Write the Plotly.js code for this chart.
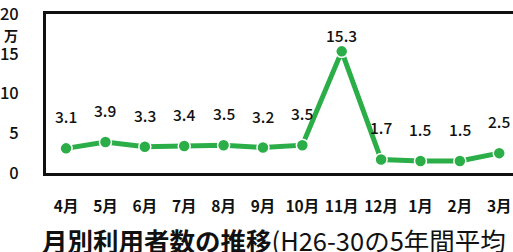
<!DOCTYPE html>
<html>
<head>
<meta charset="utf-8">
<script src="https://cdn.plot.ly/plotly-3.0.1.min.js"></script>
<style>html,body{margin:0;padding:0;background:#fff;}</style>
</head>
<body>
<div id="chart" style="width:513px;height:252px;"></div>
<script>
const months = ["4月","5月","6月","7月","8月","9月","10月","11月","12月","1月","2月","3月"];
const users = [3.1, 3.9, 3.3, 3.4, 3.5, 3.2, 3.5, 15.3, 1.7, 1.5, 1.5, 2.5];
const yTicks = [0, 5, 10, 15, 20];
const unitLabel = "万";
const titleBold = "月別利用者数の推移";
const titleRest = "(H26-30の5年間平均";

const FONT = "Noto Sans CJK JP, Noto Sans, sans-serif";
const green = "#2BAE47";

const annotations = months.map((m, i) => ({
  x: m, y: users[i], xref: "x", yref: "y",
  text: users[i].toFixed(1), showarrow: false,
  yshift: users[i] > 10 ? 16 : 32,
  font: {family: FONT, size: 15.5, color: "#111", weight: 500}
}));
annotations.push({
  xref: "paper", yref: "paper", x: -0.075, y: 0.87, xanchor: "center", yanchor: "middle",
  text: unitLabel, showarrow: false, font: {family: FONT, size: 14, color: "#111", weight: 700}
});
annotations.push({
  xref: "paper", yref: "paper", x: -0.012, y: -0.42, xanchor: "left", yanchor: "middle",
  text: "<b>" + titleBold + "</b>" + titleRest, showarrow: false,
  font: {family: FONT, size: 25.5, color: "#111"}
});

const trace = {
  x: months, y: users, type: "scatter", mode: "lines+markers",
  line: {color: green, width: 5},
  marker: {color: green, size: 12, line: {color: "#fff", width: 1.5}},
  hoverinfo: "skip"
};

const layout = {
  width: 513, height: 252,
  margin: {l: 46, r: 0, t: 14, b: 79},
  paper_bgcolor: "#fff", plot_bgcolor: "#fff",
  showlegend: false,
  xaxis: {
    type: "category", range: [-0.51, 11.35],
    showline: true, linecolor: "#111", linewidth: 3, mirror: true,
    showgrid: false, zeroline: false, ticks: "",
    ticklabelstandoff: 17,
    tickfont: {family: FONT, size: 15.5, color: "#111", weight: 600}
  },
  yaxis: {
    range: [0, 20], tickvals: yTicks,
    showline: true, linecolor: "#111", linewidth: 3,
    showgrid: false, zeroline: false, ticks: "",
    ticklabelstandoff: 21,
    tickfont: {family: FONT, size: 16.5, color: "#111", weight: 500}
  },
  annotations: annotations
};

Plotly.newPlot("chart", [trace], layout, {displayModeBar: false, staticPlot: true});
</script>
</body>
</html>
